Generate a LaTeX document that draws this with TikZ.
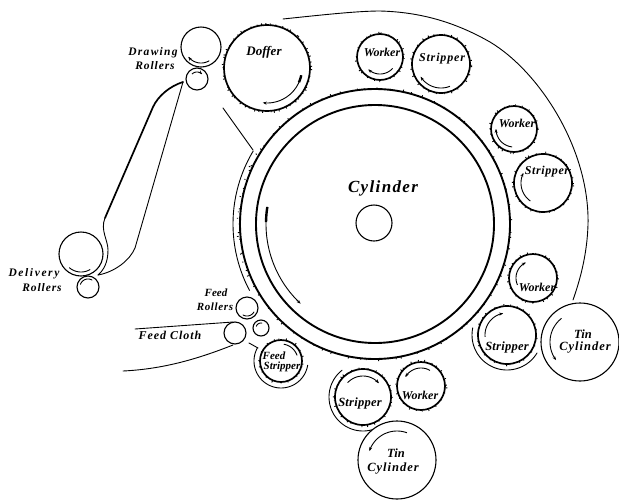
\documentclass[tikz,border=0pt]{standalone}
\usepackage{fontspec}
\setmainfont{Liberation Serif}
\usetikzlibrary{arrows.meta}
\tikzset{
  heavy/.style={draw=black,circle,inner sep=0pt,line width=1.7pt},
  plain/.style={draw=black,circle,inner sep=0pt,line width=1.1pt},
  ring/.style={draw=black,circle,inner sep=0pt,line width=1.9pt},
  thinline/.style={line width=0.9pt,line cap=round},
  featherline/.style={line width=2.4pt},
  dirarrow/.style={line width=0.9pt,-{Stealth[length=4pt,width=3pt]}},
  lab/.style={font=\bfseries\itshape\fontsize{#1}{#1}\selectfont,inner sep=0pt,text=black},
  lab/.default=11.5
}
\newcommand{\roller}[5][heavy]{\node[#1,minimum size=#5*2pt] (#2) at (#3,#4) {};}
\newcommand{\arcline}[6][thinline]{\draw[#1] plot[domain=#5:#6,samples=40] ({#2+#4*cos(\x)},{#3+#4*sin(\x)});}
\newcommand{\cardteeth}[6]{% x y r step from to
  \pgfmathsetmacro{\nextang}{#5+#4}
  \foreach \a in {#5,\nextang,...,#6}{
    \pgfmathsetmacro{\aj}{\a+rnd*#4*0.8}
    \pgfmathsetmacro{\tl}{0.6+rnd*1.3}
    \draw[line width=0.9pt] ({#1+#3*cos(\aj)},{#2+#3*sin(\aj)}) -- ({#1+(#3+\tl)*cos(\aj)},{#2+(#3+\tl)*sin(\aj)});
  }}
\begin{document}
\begin{tikzpicture}[x=1pt,y=-1pt]
\useasboundingbox (0,0) rectangle (619,499);
\pgfmathsetseed{7}
% main cylinder
\roller[ring]{cylouter}{375}{224}{135}
\roller[ring]{cylinner}{375}{224}{119}
\roller[plain]{hub}{374}{223}{18}
\cardteeth{375}{224}{135.5}{5}{0}{360}
\arcline[line width=0.9pt]{375}{224}{142}{211}{152}
\cardteeth{375}{224}{137}{6}{155}{210}
\arcline[dirarrow]{375}{224}{109}{189}{133}
\arcline[featherline]{375}{224}{109}{189}{181}
% doffer and drawing rollers
\roller{doffer}{267}{68}{43}
\cardteeth{267}{68}{43.5}{7}{0}{360}
\roller[plain]{drawup}{201}{47}{20}
\roller[plain]{drawlow}{197}{79}{11}
\arcline[dirarrow]{267}{68}{35}{12}{97}
\arcline[featherline]{267}{68}{35}{12}{24}
\arcline[dirarrow]{201}{47}{16}{59}{142}
\arcline[dirarrow]{197}{79}{7}{225}{315}
% delivery rollers
\roller[plain]{delup}{81}{254}{22}
\roller[plain]{dellow}{88}{287}{11}
\arcline{81}{254}{18}{60}{130}
\arcline{88}{287}{8}{200}{300}
% workers and strippers
\roller{wa}{380}{57}{23}
\cardteeth{380}{57}{23.5}{16}{0}{360}
\roller{sa}{441}{64}{29}
\cardteeth{441}{64}{29.5}{15}{0}{360}
\roller{wb}{514}{129}{23}
\cardteeth{514}{129}{23.5}{16}{0}{360}
\roller{sb}{543}{183}{29}
\cardteeth{543}{183}{29.5}{15}{0}{360}
\roller{wc}{533}{278}{24}
\cardteeth{533}{278}{24.5}{16}{0}{360}
\roller{sc}{507}{335}{29}
\cardteeth{507}{335}{29.5}{15}{0}{360}
\roller{sd}{363}{397}{28}
\cardteeth{363}{397}{28.5}{15}{0}{360}
\roller{wd}{421}{386}{24}
\cardteeth{421}{386}{24.5}{16}{0}{360}
\roller[plain]{tina}{580}{342}{39}
\roller[plain]{tinb}{397}{460}{39}
\arcline[dirarrow]{380}{57}{17}{42}{133}
\arcline[dirarrow]{441}{64}{24}{68}{148}
\arcline[dirarrow]{514}{129}{18}{96}{180}
\arcline[dirarrow]{543}{183}{22}{125}{207}
\arcline[dirarrow]{533}{278}{17}{156}{245}
\arcline[dirarrow]{507}{335}{22}{175}{260}
\arcline[dirarrow]{580}{342}{30}{232}{143}
\arcline[dirarrow]{363}{397}{21}{223}{319}
\arcline[dirarrow]{421}{386}{18}{300}{210}
\arcline[dirarrow]{397}{460}{29}{290}{198}
% casings
\arcline{507}{335}{35}{31}{192}
\arcline{363}{397}{34}{75}{232}
% feed
\roller[plain]{feedup}{247}{308}{11}
\roller[plain]{feedsm}{261}{328}{8}
\roller[plain]{feedlow}{235}{333}{11}
\roller{feedst}{281}{361}{21}
\cardteeth{281}{361}{21.5}{20}{0}{360}
\arcline{281}{361}{27}{9}{209}
\arcline{247}{308}{8}{30}{120}
\arcline{261}{328}{5}{200}{280}
\arcline{281}{361}{17}{280}{340}
% web and outlines
\coordinate (webtip) at (183,82);
\coordinate (webend) at (98,275);
\coordinate (guidea) at (223,108);
\coordinate (guideb) at (253,150);
\coordinate (topa) at (283,19);
\coordinate (topb) at (573,300);
\coordinate (clotha) at (135,329);
\coordinate (clothb) at (233,322);
\coordinate (clothc) at (123,371);
\coordinate (clothd) at (233,345);
\coordinate (caseA) at (249,343);
\coordinate (caseB) at (258,348);
\draw[line width=1.7pt,line cap=round] (webtip) .. controls (170,86) and (158,96) .. (153,107) -- (105,218);
\draw[thinline] (105,218) .. controls (100,230) and (108,240) .. (108,250) .. controls (108,262) and (104,270) .. (webend);
\draw[thinline] (webtip) -- (135,248) .. controls (130,260) and (115,272) .. (webend);
\draw[thinline] (guidea) -- (guideb);
\draw[thinline] (topa) .. controls (330,14) and (360,11) .. (380,11) .. controls (420,12) and (455,22) .. (490,42) .. controls (540,72) and (590,150) .. (588,225) .. controls (587,255) and (580,280) .. (topb);
\draw[thinline] (clotha) -- (clothb);
\draw[thinline] (clothc) .. controls (165,369) and (200,358) .. (clothd);
\draw[thinline] (caseA) -- (caseB);
% labels
\node[lab=17] (tcyl) at (383,188) {\addfontfeatures{LetterSpace=8}Cylinder};
\node[lab] (tdraw) at (153,53) {\addfontfeatures{LetterSpace=11}Drawing};
\node[lab] (troll) at (155,66) {\addfontfeatures{LetterSpace=8}Rollers};
\node[lab=13] (tdof) at (264,52) {Doffer};
\node[lab=12] (twa) at (382,52) {Worker};
\node[lab=12] (tsa) at (442,59) {\addfontfeatures{LetterSpace=7}Stripper};
\node[lab=12] (twb) at (517,123) {Worker};
\node[lab=12] (tsb) at (547,172) {\addfontfeatures{LetterSpace=5}Stripper};
\node[lab=12] (twc) at (537,287) {Worker};
\node[lab=12.5] (tsc) at (507,347) {\addfontfeatures{LetterSpace=2}Stripper};
\node[lab=12.5] (tsd) at (360,403) {\addfontfeatures{LetterSpace=2}Stripper};
\node[lab=12] (twd) at (420,395) {Worker};
\node[lab=12.5] (tta) at (583,334) {Tin};
\node[lab=12.5] (ttb) at (585,348) {\addfontfeatures{LetterSpace=8}Cylinder};
\node[lab=12.5] (ttc) at (396,453) {Tin};
\node[lab=12.5] (ttd) at (393,469) {\addfontfeatures{LetterSpace=8}Cylinder};
\node[lab] (tdel) at (34,274) {\addfontfeatures{LetterSpace=14}Delivery};
\node[lab] (tdr) at (42,288) {\addfontfeatures{LetterSpace=8}Rollers};
\node[lab=11] (tff) at (216,293) {Feed};
\node[lab=11] (tfr) at (215,307) {\addfontfeatures{LetterSpace=6}Rollers};
\node[lab=12] (tfc) at (170,335) {\addfontfeatures{LetterSpace=8}Feed Cloth};
\node[lab=11] (tfs) at (274,356) {Feed};
\node[lab=11] (tfst) at (282,367) {Stripper};
\end{tikzpicture}
\end{document}
